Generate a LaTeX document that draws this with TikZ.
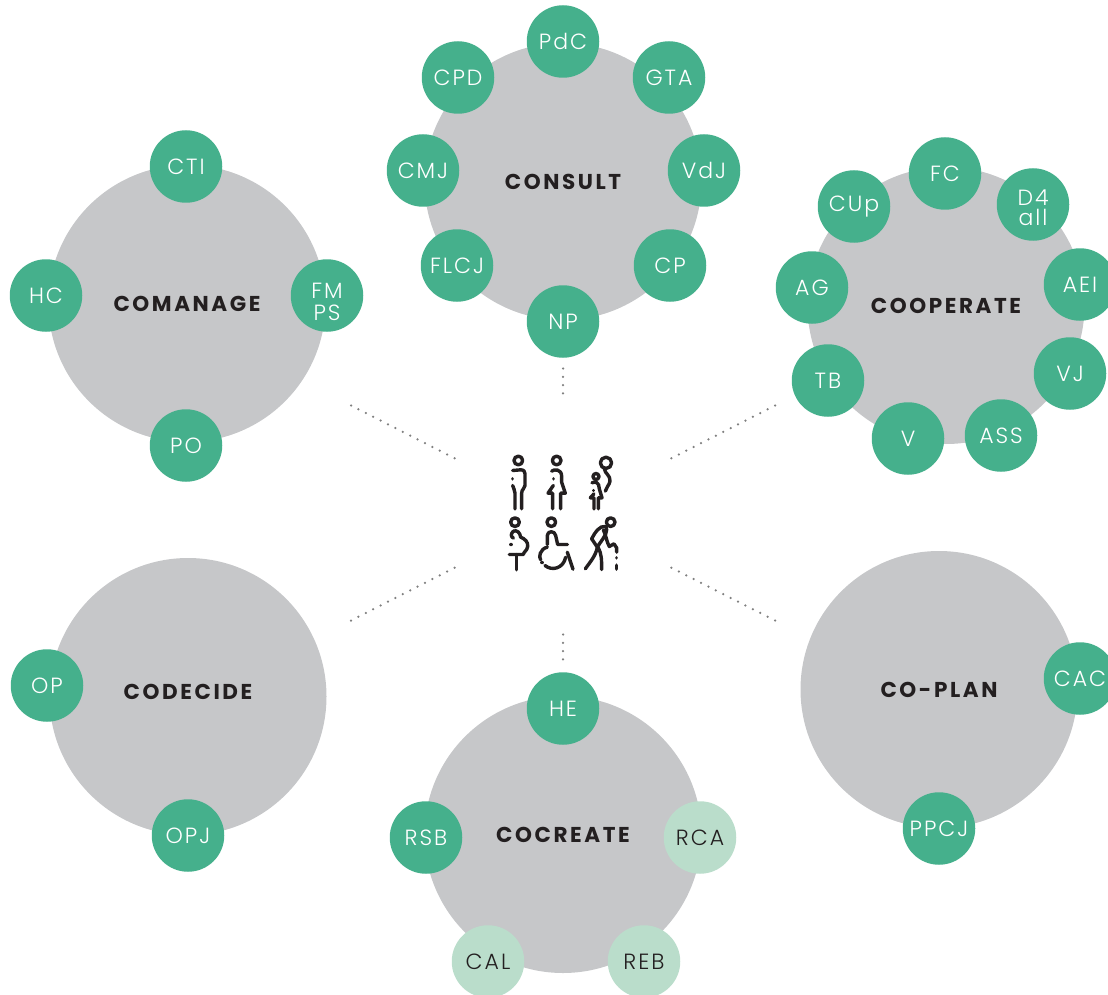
\documentclass[tikz,border=0pt]{standalone}
\usepackage{fontspec}
\setmainfont{Poppins}
\newfontfamily\labelfont[LetterSpace=9]{Poppins Light}
\newfontfamily\hubfont[LetterSpace=12]{Poppins Bold}
\definecolor{hubgrey}{HTML}{C6C7C9}
\definecolor{stake}{HTML}{45B08C}
\definecolor{stakelight}{HTML}{BADDCB}
\definecolor{inkdark}{HTML}{231F20}
\definecolor{linkgrey}{HTML}{808080}
\newcommand{\dropped}[2]{\raisebox{0pt}[\dimexpr\height+#1\relax]{#2}}
\tikzset{
  hub/.style={circle, fill=hubgrey, minimum size=277pt, inner sep=0pt, text=inkdark, font=\hubfont\fontsize{21.5}{21.5}\selectfont},
  member/.style={circle, fill=stake, minimum size=72.5pt, inner sep=0pt, align=center, text=white, font=\labelfont\fontsize{22}{22}\selectfont},
  memberlight/.style={member, fill=stakelight, text=inkdark},
  link/.style={linkgrey, line width=2.5pt, line cap=round, dash pattern=on 0pt off 8.3pt},
  figure/.style={inkdark, line width=3.4pt, line cap=round, line join=round}
}
\begin{document}
\begin{tikzpicture}[x=1pt,y=-1pt]
  \clip (0,0) rectangle (1108,995);
  \begin{scope}[yshift=-0.5pt]

  % hubs
  \node[hub] (comanage) at (187,303) {COMANAGE};
  \node[hub] (consult) at (563,181) {CONSULT};
  \node[hub] (cooperate) at (946,305) {COOPERATE};
  \node[hub] (codecide) at (188,696) {\raisebox{10pt}{CODECIDE}};
  \node[hub] (coplan) at (939,689) {CO-PLAN};
  \node[hub] (cocreate) at (563,834) {COCREATE};

  % members
  \foreach \x/\y/\name/\txt in {
      563/41/PdC/PdC, 669/77/GTA/GTA, 704/170/VdJ/VdJ, 670/265/CP/CP,
      563/321/NP/NP, 457/265/FLCJ/FLCJ, 423/170/CMJ/CMJ, 458/77/CPD/CPD,
      945/173/FC/FC, 1033/204/Dall/{\dropped{6pt}{\shortstack{D4\\[0.5pt]all}}}, 1080/284/AEI/AEI, 1070/373/VJ/VJ,
      1001/435/ASS/ASS, 908/438/V/V, 828/380/TB/TB, 812/287/AG/AG, 854/206/CUp/CUp,
      186/166/CTI/CTI, 327/295/FMPS/{\dropped{12pt}{\shortstack{FM\\[3.6pt]PS}}}, 186/445/PO/PO, 46/295/HC/HC,
      47/685/OP/OP, 188/835/OPJ/OPJ,
      1080/678/CAC/CAC, 939/828/PPCJ/PPCJ,
      563/708/HE/HE, 426/837/RSB/RSB}
    \node[member] (\name) at (\x,\y) {\txt};
  \foreach \x/\y/\name in {700/837/RCA, 644/961/REB, 488/961/CAL}
    \node[memberlight] (\name) at (\x,\y) {\name};

  % links
  \coordinate (nA) at (563,368);  \coordinate (nB) at (563,393);
  \coordinate (wA) at (351,405);  \coordinate (wB) at (455,458);
  \coordinate (eA) at (775,405);  \coordinate (eB) at (671,458);
  \coordinate (swA) at (351,620); \coordinate (swB) at (455,567);
  \coordinate (seA) at (775,620); \coordinate (seB) at (671,567);
  \coordinate (sA) at (563,634);  \coordinate (sB) at (563,659);
  \foreach \a/\b in {nA/nB, wA/wB, eA/eB, swA/swB, seA/seB, sA/sB}
    \draw[link] (\a) -- (\b);

  % people
  \begin{scope}[shift={(490,440)}, x=0.3333pt, y=-0.3333pt, figure]
    % man
    \draw (85,60) circle[radius=13];
    \draw (68,90) -- (92,88) .. controls (102,88) and (105,94) .. (105,100) -- (105,135) .. controls (105,145) and (95,145) .. (95,158) -- (95,205);
    \draw (68,135) .. controls (70,145) and (75,148) .. (75,158) -- (75,205);
    \draw (68,115) -- (68,115.1);
    % woman
    \draw (200,60) circle[radius=13];
    \draw (185,92) .. controls (192,86) and (215,84) .. (215,108) -- (215,125) -- (226,158) -- (212,158) -- (212,205);
    \draw (190,135) -- (174,158) -- (188,158) -- (188,205);
    \draw (190,115) -- (190,115.1);
    % child with balloon
    \draw (348,67) circle[radius=17];
    \draw (343,85) .. controls (345,100) and (362,105) .. (360,122) .. controls (358,135) and (348,140) .. (346,152);
    \draw (318,108) circle[radius=9];
    \draw (306,127) .. controls (315,122) and (328,125) .. (328,145) -- (336,172) -- (325,172) -- (325,205);
    \draw (312,160) -- (301,172) -- (312,172) -- (312,205);
    \draw (310,150) -- (310,150.1);
    % pregnant woman
    \draw (75,245) circle[radius=13];
    \draw (70,272) .. controls (80,268) and (90,275) .. (92,290) .. controls (105,295) and (115,305) .. (113,318) .. controls (112,330) and (100,335) .. (100,342) -- (58,342);
    \draw (70,272) .. controls (62,280) and (62,288) .. (70,293);
    \draw (80,342) -- (80,388);
    \draw (63,312) -- (63,312.1);
    % wheelchair
    \draw (184,245) circle[radius=13];
    \draw (172,312) -- (172,285) .. controls (172,270) and (195,270) .. (197,285) -- (203,312) -- (232,312);
    \draw (172,320) .. controls (150,325) and (145,350) .. (152,358);
    \draw (165,375) .. controls (185,392) and (220,385) .. (227,350);
    \draw (232,335) -- (249,386);
    \draw (156,366) -- (156,366.1);
    % elderly person with stick
    \draw (362,245) circle[radius=13];
    \draw (345,258) .. controls (330,255) and (315,275) .. (305,295) -- (322,320) .. controls (330,305) and (350,285) .. (350,268) .. controls (350,262) and (348,259) .. (345,258);
    \draw (340,268) .. controls (350,290) and (350,305) .. (358,318) -- (372,310) -- (380,322) -- (380,335);
    \draw (322,320) .. controls (318,345) and (300,365) .. (286,385);
    \draw (325,322) .. controls (335,340) and (335,360) .. (335,387);
    \draw (380,352) -- (380,352.1);
    \draw (380,374) -- (380,386);
  \end{scope}
  \end{scope}
\end{tikzpicture}
\end{document}
